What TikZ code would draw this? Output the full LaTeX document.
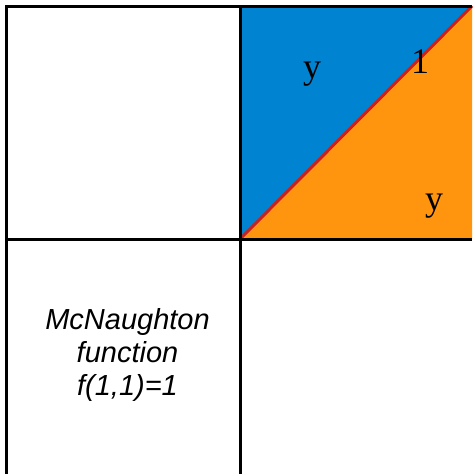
\documentclass[tikz,border=0pt]{standalone}
\usepackage{fontspec}
\setmainfont{Liberation Serif}
\newfontfamily\arialfont{Liberation Sans}
\definecolor{cblue}{HTML}{0084D1}
\definecolor{corange}{HTML}{FF950E}
\definecolor{cred}{HTML}{C9211E}
\begin{document}
\begin{tikzpicture}[x=1pt,y=-1pt,
  gridline/.style={line width=3pt,black},
  serlabel/.style={font=\fontsize{36}{40}\selectfont,anchor=base,inner sep=0pt},
  sanslabel/.style={font=\arialfont\itshape\fontsize{29}{33}\selectfont,align=center,inner sep=0pt}]
\useasboundingbox (0,0) rectangle (472,474);
\coordinate (tl) at (240,6);
\coordinate (tr) at (472,6);
\coordinate (c) at (240,239);
\coordinate (br) at (472,239);
\fill[cblue] (tl) -- (tr) -- (c) -- cycle;
\fill[corange] (c) -- (br) -- (tr) -- cycle;
\draw[cred,line width=3pt] (c) -- (tr);
\draw[gridline] (6,474) -- (6,6) -- (472,6);
\draw[gridline] (240,6) -- (240,474);
\draw[gridline] (6,239) -- (472,239);
\node[serlabel] (y1) at (312,78) {y};
\node[serlabel] (one) at (420,73) {1};
\node[serlabel] (y2) at (434,210) {y};
\node[sanslabel] (mc) at (127.5,355) {McNaughton\\function\\f(1,1)=1};
\end{tikzpicture}
\end{document}
